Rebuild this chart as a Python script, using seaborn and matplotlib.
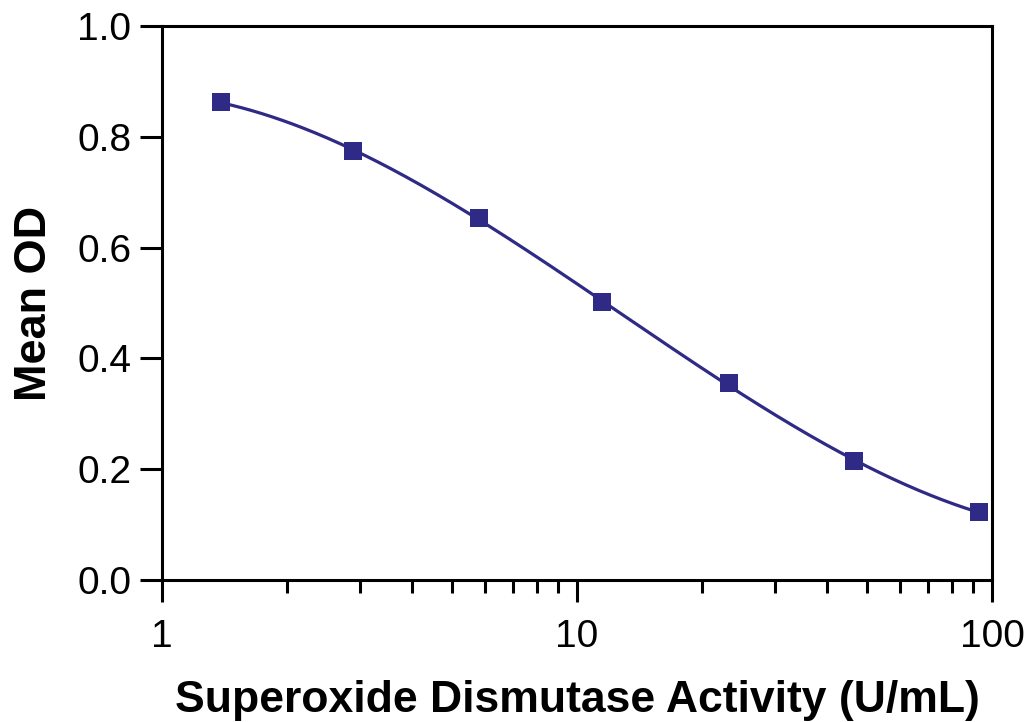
import numpy as np
import pandas as pd
import matplotlib
matplotlib.use("Agg")
import matplotlib.pyplot as plt
import seaborn as sns
from matplotlib.ticker import LogLocator, FixedLocator, NullFormatter, FuncFormatter

# Standard curve readings
activity = [1.39, 2.88, 5.8, 11.5, 23.2, 46.4, 93.0]   # U/mL
mean_od = [0.862, 0.775, 0.653, 0.501, 0.355, 0.214, 0.123]

x_ticks = [1, 10, 100]
y_ticks = [0.0, 0.2, 0.4, 0.6, 0.8, 1.0]

color = "#2E2A85"

sns.set_theme(style="ticks")
plt.rcParams["font.family"] = ["Liberation Sans", "DejaVu Sans"]

df = pd.DataFrame({"activity": activity, "od": mean_od})

# Smooth fitted curve (cubic in log10 concentration) between first and last standard
coef = np.polyfit(np.log10(df["activity"]), df["od"], 3)
xs = np.logspace(np.log10(activity[0]), np.log10(activity[-1]), 300)
fit = pd.DataFrame({"activity": xs, "od": np.polyval(coef, np.log10(xs))})

fig = plt.figure(figsize=(10.29, 7.22), dpi=100)
ax = fig.add_axes([0.1574, 0.1967, 0.8066, 0.7673])

sns.lineplot(data=fit, x="activity", y="od", ax=ax, color=color, lw=2.3, zorder=2)
sns.scatterplot(data=df, x="activity", y="od", ax=ax, marker="s", s=160,
                color=color, edgecolor=color, linewidth=0, zorder=3)

ax.set_xscale("log")
ax.set_xlim(1, 100)
ax.set_ylim(0, 1.0)
ax.xaxis.set_major_locator(FixedLocator(x_ticks))
ax.xaxis.set_major_formatter(FuncFormatter(lambda v, p: f"{v:g}"))
ax.xaxis.set_minor_locator(LogLocator(base=10, subs=np.arange(2, 10)))
ax.xaxis.set_minor_formatter(NullFormatter())
ax.yaxis.set_major_locator(FixedLocator(y_ticks))
ax.yaxis.set_major_formatter(FuncFormatter(lambda v, p: f"{v:.1f}"))

for sp in ax.spines.values():
    sp.set_linewidth(2.2)
    sp.set_color("black")

ax.tick_params(axis="both", which="major", length=16, width=2.2, labelsize=28,
               color="black", labelcolor="black", direction="out")
ax.tick_params(axis="x", which="major", pad=12)
ax.tick_params(axis="y", which="major", pad=6)
ax.tick_params(axis="x", which="minor", length=9, width=2.2, color="black", direction="out")
ax.tick_params(axis="y", which="minor", length=0)

ax.set_xlabel("Superoxide Dismutase Activity (U/mL)", fontsize=32, fontweight="bold",
              labelpad=18, color="black")
ax.set_ylabel("Mean OD", fontsize=32.5, fontweight="bold", labelpad=16, color="black")
ax.grid(False)

fig.savefig("out.png", dpi=100)
